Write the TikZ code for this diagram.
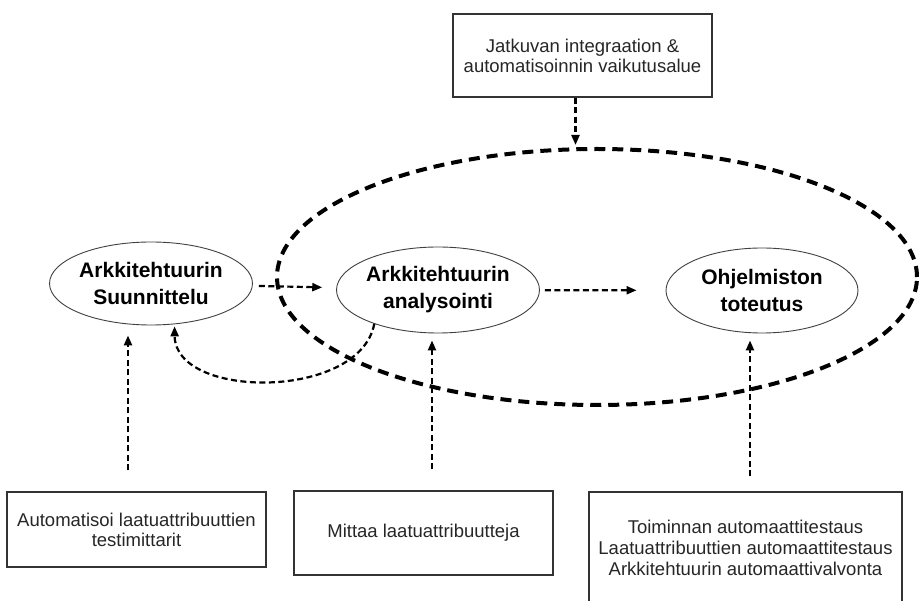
\documentclass[tikz,border=0pt]{standalone}
\usepackage{fontspec}
\setmainfont{Liberation Sans}
\usetikzlibrary{shapes.geometric,arrows.meta}

\tikzset{
  phase/.style={ellipse, draw=black!75, line width=0.9pt, inner sep=0pt, align=center, text=black,
    font=\bfseries\fontsize{21}{27}\selectfont},
  task/.style={draw=black!80, line width=1.4pt, inner sep=0pt, align=center, text=black!85,
    font=\fontsize{18.5}{20}\selectfont},
  flow/.style={line width=2.2pt, dash pattern=on 6pt off 3.5pt, -{Triangle[length=10pt,width=8pt]}},
  zone/.style={ellipse, draw, line width=4pt, dash pattern=on 11pt off 7pt}
}

\begin{document}
\begin{tikzpicture}[x=1pt,y=-1pt]
  \useasboundingbox (0,0) rectangle (919,601);
  \clip (0,0) rectangle (919,601);

  % phases
  \node[phase, minimum width=196, minimum height=83] (suun) at (151,283.5) {Arkkitehtuurin\\Suunnittelu};
  \node[phase, minimum width=180, minimum height=86] (anal) at (438,290) {Arkkitehtuurin\\analysointi};
  \node[phase, minimum width=192, minimum height=85] (tot) at (762,290.5) {Ohjelmiston\\toteutus};
  \node[zone, minimum width=640, minimum height=256] (alue) at (597,277) {};

  % boxes
  \node[task, minimum width=259, minimum height=83] (ci) at (582.5,55.5) {Jatkuvan integraation \&\\automatisoinnin vaikutusalue};
  \node[task, minimum width=259, minimum height=75] (mitt1) at (136.5,529.5) {Automatisoi laatuattribuuttien\\testimittarit};
  \node[task, minimum width=259, minimum height=84] (mitt2) at (423.5,533) {Mittaa laatuattribuutteja};
  \node[task, minimum width=313, minimum height=112, font=\fontsize{18.5}{21}\selectfont] (mitt3) at (745.5,548)
    {Toiminnan automaattitestaus\\Laatuattribuuttien automaattitestaus\\Arkkitehtuurin automaattivalvonta};

  % arrows
  \draw[flow, shorten <=6pt, shorten >=14pt] (suun) -- (anal);
  \draw[flow, shorten <=5pt, shorten >=29pt] (anal) -- (tot);
  \draw[flow, shorten >=2pt] (anal.-152) .. controls (360,400) and (175,400) .. (suun.-60);
  \draw[flow, shorten >=2pt] ([xshift=-7pt]ci.south) -- ([xshift=-7pt]ci.south |- alue.north);
  \foreach \b/\e/\dx/\s/\t in {mitt1/suun/-8.5/21pt/10pt, mitt2/anal/8.5/21pt/7pt, mitt3/tot/4.5/15pt/7pt}{
    \draw[flow, shorten <=\s, shorten >=\t] ([xshift=\dx]\b.north) -- ([xshift=\dx]\b.north |- \e.south);
  }
\end{tikzpicture}
\end{document}
